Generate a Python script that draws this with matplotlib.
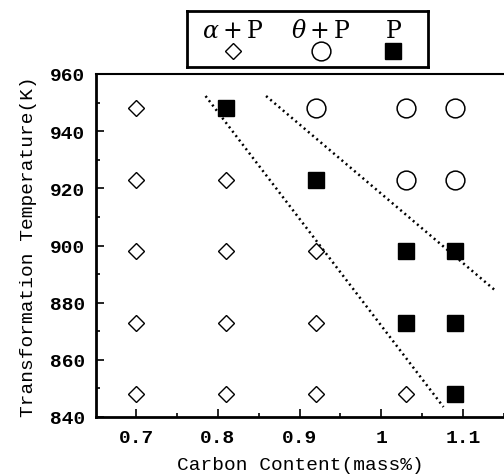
import matplotlib

matplotlib.use("Agg")
import matplotlib.pyplot as plt
from matplotlib.ticker import MultipleLocator, FuncFormatter

# Phase observations: carbon content (mass%) vs transformation temperature (K)
ap_carbon = [0.70, 0.70, 0.70, 0.70, 0.70, 0.81, 0.81, 0.81, 0.81, 0.92, 0.92, 0.92, 1.03]
ap_temp = [948, 923, 898, 873, 848, 923, 898, 873, 848, 898, 873, 848, 848]

tp_carbon = [0.92, 1.03, 1.03, 1.09, 1.09]
tp_temp = [948, 948, 923, 948, 923]

p_carbon = [0.81, 0.92, 1.03, 1.03, 1.09, 1.09, 1.09]
p_temp = [948, 923, 898, 873, 898, 873, 848]

# dotted phase boundaries
b1_carbon = [0.785, 1.076]
b1_temp = [952.3, 843.5]
b2_carbon = [0.859, 1.140]
b2_temp = [952.3, 884.1]

legend_labels = [r"$\alpha+\mathrm{P}$", r"$\theta+\mathrm{P}$", r"$\mathrm{P}$"]

FONT = "Liberation Mono"
plt.rcParams["mathtext.fontset"] = "dejavuserif"

fig = plt.figure(figsize=(5.04, 4.77), dpi=100)
ax = fig.add_axes([96 / 504, 1 - 418 / 477, 1 - 96 / 504, 343 / 477])

ax.plot(ap_carbon, ap_temp, "D", ms=8, mfc="white", mec="black", mew=1.0, ls="none")
ax.plot(tp_carbon, tp_temp, "o", ms=13.5, mfc="white", mec="black", mew=1.1, ls="none")
ax.plot(p_carbon, p_temp, "s", ms=11, mfc="black", mec="black", ls="none")
ax.plot(b1_carbon, b1_temp, color="black", lw=1.8, ls=(0, (0.8, 1.4)))
ax.plot(b2_carbon, b2_temp, color="black", lw=1.8, ls=(0, (0.8, 1.4)), clip_on=False)

ax.set_xlim(0.651, 1.15)
ax.set_ylim(840, 960)
ax.xaxis.set_major_locator(MultipleLocator(0.1))
ax.xaxis.set_minor_locator(MultipleLocator(0.05))
ax.yaxis.set_major_locator(MultipleLocator(20))
ax.yaxis.set_minor_locator(MultipleLocator(10))
ax.xaxis.set_major_formatter(FuncFormatter(lambda v, _: f"{v:.1f}".rstrip("0").rstrip(".")))

ax.tick_params(which="both", direction="in", width=1.2, top=False, right=False)
ax.tick_params(which="major", length=6)
ax.tick_params(which="minor", length=3)
for lab in ax.get_xticklabels() + ax.get_yticklabels():
    lab.set_fontfamily(FONT)
    lab.set_fontsize(14)
    lab.set_fontweight("bold")
ax.tick_params(axis="x", pad=9)
ax.tick_params(axis="y", pad=8)

ax.spines["right"].set_visible(False)
ax.spines["left"].set_linewidth(2)
ax.spines["bottom"].set_linewidth(2)
ax.spines["top"].set_linewidth(1.5)

ax.set_xlabel("Carbon Content(mass%)", fontfamily=FONT, fontsize=14, labelpad=7)
ax.set_ylabel("Transformation Temperature(K)", fontfamily=FONT, fontsize=14, labelpad=9)

# legend box drawn above the axes
lg = fig.add_axes([187 / 504, 1 - 68 / 477, 241 / 504, 56 / 477])
lg.set_xlim(0, 1)
lg.set_ylim(0, 1)
lg.set_xticks([])
lg.set_yticks([])
for s in lg.spines.values():
    s.set_linewidth(2)
xs = [0.19, 0.555, 0.855]
for x, lab in zip(xs, legend_labels):
    lg.text(x, 0.66, lab, ha="center", va="center", fontsize=17)
lg.plot([xs[0]], [0.29], "D", ms=8, mfc="white", mec="black", mew=1.0)
lg.plot([xs[1]], [0.29], "o", ms=13.5, mfc="white", mec="black", mew=1.1)
lg.plot([xs[2]], [0.29], "s", ms=11, mfc="black", mec="black")

fig.savefig("out.png", dpi=100, facecolor="white")
